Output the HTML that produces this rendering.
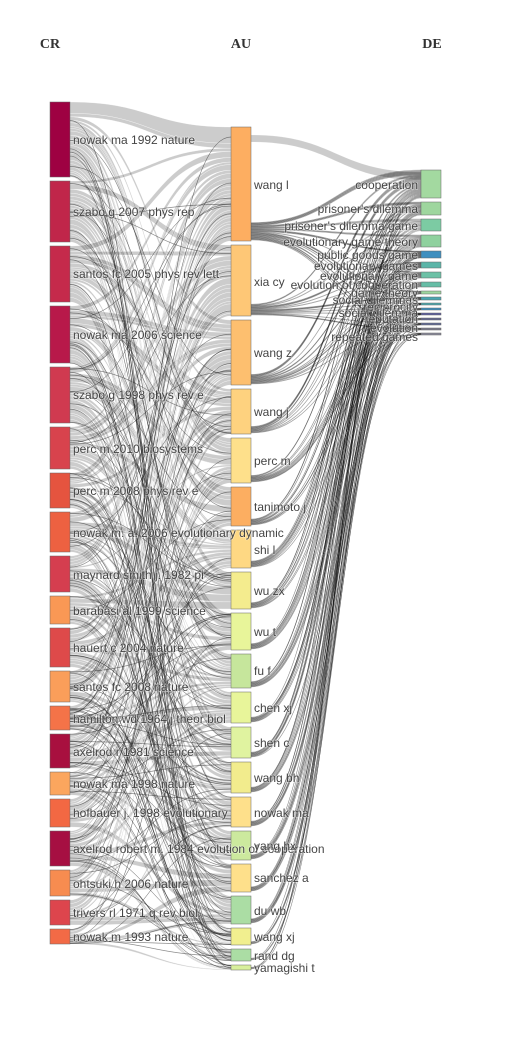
<!DOCTYPE html>
<html><head><meta charset="utf-8"><style>
html,body{margin:0;padding:0;background:#fff;}
svg{display:block;}
text{font-family:"Liberation Sans",sans-serif;font-size:12px;fill:#444;paint-order:stroke;stroke:#fff;stroke-width:1.5px;stroke-opacity:.4;}
.t{font-family:"Liberation Serif",serif;font-weight:bold;font-size:14px;fill:#333;stroke:none;}
</style></head><body>
<svg id="s" width="520" height="1044" viewBox="0 0 520 1044" xmlns="http://www.w3.org/2000/svg">
<g id="links"></g><g id="nodes"></g><g id="labels">
<text class="t" x="50" y="48" text-anchor="middle">CR</text>
<text class="t" x="241" y="48" text-anchor="middle">AU</text>
<text class="t" x="432" y="48" text-anchor="middle">DE</text>
<text x="73" y="144">nowak ma 1992 nature</text>
<text x="73" y="216">szabo g 2007 phys rep</text>
<text x="73" y="278">santos fc 2005 phys rev lett</text>
<text x="73" y="339">nowak ma 2006 science</text>
<text x="73" y="399">szabo g 1998 phys rev e</text>
<text x="73" y="453">perc m 2010 biosystems</text>
<text x="73" y="495">perc m 2008 phys rev e</text>
<text x="73" y="537">nowak m. a. 2006 evolutionary dynamic</text>
<text x="73" y="579">maynard smith j. 1982 pi</text>
<text x="73" y="615">barabasi al 1999 science</text>
<text x="73" y="652">hauert c 2004 nature</text>
<text x="73" y="691">santos fc 2008 nature</text>
<text x="73" y="723">hamilton wd 1964 j theor biol</text>
<text x="73" y="756">axelrod r 1981 science</text>
<text x="73" y="788">nowak ma 1998 nature</text>
<text x="73" y="817">hofbauer j. 1998 evolutionary</text>
<text x="73" y="853">axelrod robert m. 1984 evolution of cooperation</text>
<text x="73" y="888">ohtsuki h 2006 nature</text>
<text x="73" y="917">trivers rl 1971 q rev biol</text>
<text x="73" y="941">nowak m 1993 nature</text>
<text x="254" y="189">wang l</text>
<text x="254" y="286">xia cy</text>
<text x="254" y="357">wang z</text>
<text x="254" y="416">wang j</text>
<text x="254" y="465">perc m</text>
<text x="254" y="511">tanimoto j</text>
<text x="254" y="554">shi l</text>
<text x="254" y="595">wu zx</text>
<text x="254" y="636">wu t</text>
<text x="254" y="675">fu f</text>
<text x="254" y="712">chen xj</text>
<text x="254" y="747">shen c</text>
<text x="254" y="782">wang bh</text>
<text x="254" y="817">nowak ma</text>
<text x="254" y="850">yang hx</text>
<text x="254" y="882">sanchez a</text>
<text x="254" y="915">du wb</text>
<text x="254" y="941">wang xj</text>
<text x="254" y="960">rand dg</text>
<text x="254" y="972">yamagishi t</text>
<text x="418" y="189" text-anchor="end">cooperation</text>
<text x="418" y="213" text-anchor="end">prisoner's dilemma</text>
<text x="418" y="230" text-anchor="end">prisoner's dilemma game</text>
<text x="418" y="246" text-anchor="end">evolutionary game theory</text>
<text x="418" y="259" text-anchor="end">public goods game</text>
<text x="418" y="270" text-anchor="end">evolutionary games</text>
<text x="418" y="280" text-anchor="end">evolutionary game</text>
<text x="418" y="289" text-anchor="end">evolution of cooperation</text>
<text x="418" y="297" text-anchor="end">game theory</text>
<text x="418" y="304" text-anchor="end">social dilemmas</text>
<text x="418" y="311" text-anchor="end">reciprocity</text>
<text x="418" y="317" text-anchor="end">social dilemma</text>
<text x="418" y="323" text-anchor="end">reputation</text>
<text x="418" y="332" text-anchor="end">evolution</text>
<text x="418" y="341" text-anchor="end">repeated games</text>
</g>
</svg>
<script>
var CR=[[102,177,'#9e0142'],[181,242,'#c0264a'],[246,302,'#c52a4b'],[306,363,'#b8194a'],[367,423,'#d03a50'],[427,469,'#d8434d'],[473,508,'#e5543f'],[512,552,'#ed6141'],[556,592,'#d53e4f'],[596,624,'#f99855'],[628,667,'#de4a4a'],[671,702,'#fa9e5a'],[706,730,'#f47348'],[734,768,'#a8103f'],[772,795,'#fba65e'],[799,827,'#f26843'],[831,866,'#a60f42'],[870,896,'#f78c50'],[900,925,'#dd454d'],[929,944,'#f26a46']];
var AU=[[127,241,'#fdae61'],[245,316,'#fec776'],[320,385,'#fdbf6f'],[389,434,'#fed27f'],[438,483,'#fee08b'],[487,526,'#fcae61'],[530,568,'#fed883'],[572,609,'#f4ec8e'],[613,650,'#e8f59a'],[654,688,'#c6e69c'],[692,723,'#e8f59a'],[727,758,'#e0f3a0'],[762,793,'#f2ec8d'],[797,827,'#fee08b'],[831,860,'#cce99e'],[864,892,'#fee08b'],[896,924,'#abdda4'],[928,945,'#f1ef8f'],[949,961,'#abdda4'],[965,970,'#d8ef9c']];
var DE=[[170,198,'#a3d9a0'],[202,215,'#9ed69e'],[219,231,'#7ccba3'],[235,247,'#8fd19e'],[251,258,'#3f8fbf'],[262,268,'#5bb5a8'],[272,278,'#6cc1a6'],[282,287,'#66bda6'],[291,294,'#9dd59f'],[297,300,'#4aa5b0'],[303,305,'#4fa9ad'],[308,310,'#3f8fbf'],[313,315,'#5b5d9e'],[318,320,'#62678f'],[323,325,'#606a96'],[328,330,'#7a7a8a'],[333,335,'#8a8a9a']];
var seed=7;function r(){seed=(seed*16807)%2147483647;return seed/2147483647;}
var L=document.getElementById('links'),N=document.getElementById('nodes'),ns='http://www.w3.org/2000/svg';
function band(x0,a0,b0,x1,a1,b1,fill,stroke,sw){var xm=(x0+x1)/2;var p=document.createElementNS(ns,'path');
p.setAttribute('d','M'+x0+','+a0+'C'+xm+','+a0+' '+xm+','+a1+' '+x1+','+a1+'L'+x1+','+b1+'C'+xm+','+b1+' '+xm+','+b0+' '+x0+','+b0+'Z');
p.setAttribute('fill',fill);p.setAttribute('stroke',stroke);p.setAttribute('stroke-width',sw);L.appendChild(p);}
// CR->AU
var M=[];var tin=AU.map(function(){return 0;});
CR.forEach(function(c,i){var row=[];var n=Math.round((c[1]-c[0])/4)+2;for(var k=0;k<n;k++){var j;if(k==0&&i<3)j=i;else j=Math.floor(Math.pow(r(),1.3)*AU.length);var v=1+r()*2;if(i==0&&k==0)v=8;row.push([j,v]);tin[j]+=v;}M.push(row);});
var tOff=AU.map(function(a){return a[0];});
M.forEach(function(row,i){var c=CR[i];var tot=row.reduce(function(s,e){return s+e[1];},0);var sc=(c[1]-c[0])/tot;var y=c[0];
row.sort(function(a,b){return a[0]-b[0];});
row.forEach(function(e){var j=e[0],a=AU[j];var ts=(a[1]-a[0])/tin[j];var h0=e[1]*sc,h1=e[1]*ts;
band(70,y,y+h0,231,tOff[j],tOff[j]+h1,'rgba(0,0,0,0.2)','rgba(255,255,255,0.6)',0.5);y+=h0;tOff[j]+=h1;});});
// thin dark crossing lines
for(var q=0;q<140;q++){var ci=Math.floor(r()*CR.length),ai=Math.floor(r()*AU.length);var c=CR[ci],a=AU[ai];var y0=c[0]+r()*(c[1]-c[0]),y1=a[0]+r()*(a[1]-a[0]);
band(70,y0,y0+0.3,231,y1,y1+0.3,'none','rgba(40,40,40,0.45)',0.5);}
// AU->DE
var din=DE.map(function(){return 0;});var M2=[];
AU.forEach(function(a,i){var n=Math.max(3,Math.round((a[1]-a[0])/4));var row=[];for(var k=0;k<n;k++){var j=Math.floor(Math.pow(r(),1.6)*DE.length);row.push(j);din[j]++;}M2.push(row);});
var dOff=DE.map(function(d){return d[0];});
M2.forEach(function(row,i){var a=AU[i];row.sort(function(x,y){return x-y;});var w=0.6;var y=a[1]-row.length*w-1;
row.forEach(function(j){var d=DE[j];var h=(d[1]-d[0])/din[j];band(251,y,y+w,421,dOff[j],dOff[j]+Math.min(h,1),'rgba(0,0,0,0.15)','rgba(20,20,20,0.4)',0.4);y+=w;dOff[j]+=h;});});
// big top flow
band(251,135,142,421,172,180,'rgba(0,0,0,0.2)','rgba(255,255,255,0.3)',0.4);
function node(x,d){var e=document.createElementNS(ns,'rect');e.setAttribute('x',x);e.setAttribute('y',d[0]);e.setAttribute('width',20);e.setAttribute('height',Math.max(1,d[1]-d[0]));e.setAttribute('fill',d[2]);e.setAttribute('stroke','#666');e.setAttribute('stroke-width',0.5);N.appendChild(e);}
CR.forEach(function(d){node(50,d);});AU.forEach(function(d){node(231,d);});DE.forEach(function(d){node(421,d);});
</script>
</body></html>
